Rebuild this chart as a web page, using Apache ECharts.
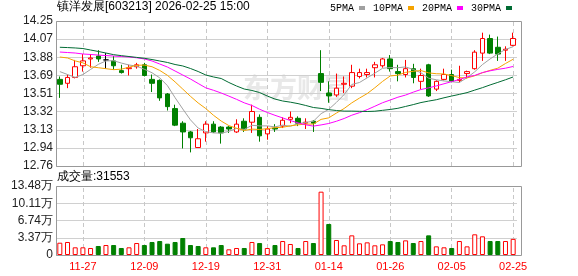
<!DOCTYPE html>
<html>
<head>
<meta charset="utf-8">
<script src="https://cdn.jsdelivr.net/npm/echarts@6/dist/echarts.min.js"></script>
<style>
html, body { margin: 0; padding: 0; background: #fff; }
#kline { width: 578px; height: 276px; }
</style>
</head>
<body>
<div id="kline"></div>
<script>
// 日期
var dates = ['11-24','11-25','11-26','11-27','11-28','12-01','12-02','12-03','12-04','12-05',
  '12-08','12-09','12-10','12-11','12-12','12-15','12-16','12-17','12-18','12-19',
  '12-22','12-23','12-24','12-25','12-26','12-29','12-30','12-31','01-05','01-06',
  '01-07','01-08','01-09','01-12','01-13','01-14','01-15','01-16','01-19','01-20',
  '01-21','01-22','01-23','01-26','01-27','01-28','01-29','01-30','02-02','02-03',
  '02-04','02-05','02-06','02-09','02-10','02-11','02-12','02-13','02-24','02-25'];

// 开, 收, 低, 高
var kdata = [
  [13.65,13.60,13.46,13.68],[13.61,13.67,13.56,13.70],[13.67,13.78,13.66,13.85],[13.79,13.84,13.73,13.91],
  [13.86,13.87,13.77,13.91],[13.89,13.86,13.83,13.95],[13.85,13.85,13.76,13.92],[13.84,13.79,13.75,13.89],
  [13.74,13.72,13.71,13.80],[13.76,13.77,13.69,13.80],[13.78,13.80,13.76,13.82],[13.80,13.69,13.68,13.82],
  [13.65,13.61,13.52,13.70],[13.64,13.46,13.43,13.65],[13.50,13.37,13.33,13.51],[13.35,13.18,13.17,13.39],
  [13.20,13.11,12.94,13.22],[13.11,13.05,12.90,13.12],[12.95,13.04,12.95,13.14],[13.10,13.19,13.01,13.22],
  [13.19,13.11,13.10,13.22],[13.16,13.10,12.99,13.17],[13.16,13.14,13.10,13.17],[13.11,13.19,13.10,13.24],
  [13.22,13.14,13.11,13.25],[13.21,13.32,13.10,13.39],[13.26,13.07,13.01,13.29],[13.09,13.14,13.03,13.17],
  [13.15,13.14,13.11,13.19],[13.17,13.23,13.15,13.26],[13.24,13.26,13.20,13.32],[13.25,13.20,13.17,13.27],
  [13.20,13.21,13.14,13.25],[13.22,13.20,13.11,13.23],[13.71,13.62,13.53,13.95],[13.51,13.48,13.41,13.63],
  [13.49,13.56,13.47,13.71],[13.60,13.61,13.51,13.68],[13.58,13.72,13.56,13.80],[13.68,13.72,13.66,13.76],
  [13.70,13.72,13.67,13.76],[13.77,13.80,13.67,13.83],[13.79,13.86,13.77,13.87],[13.86,13.76,13.73,13.90],
  [13.73,13.71,13.63,13.80],[13.70,13.76,13.67,13.85],[13.76,13.67,13.61,13.81],[13.63,13.69,13.55,13.76],
  [13.80,13.48,13.47,13.81],[13.55,13.63,13.53,13.64],[13.65,13.70,13.64,13.76],[13.70,13.63,13.62,13.75],
  [13.64,13.65,13.62,13.79],[13.71,13.73,13.66,13.74],[13.76,13.93,13.75,13.95],[13.92,14.07,13.84,14.13],
  [14.07,13.92,13.91,14.11],[13.98,13.91,13.84,14.09],[13.95,13.96,13.84,13.99],[14.00,14.07,13.99,14.13]
];

var ma5 = [13.73,13.70,13.67,13.70,13.752,13.804,13.84,13.842,13.818,13.798,
  13.786,13.754,13.718,13.666,13.586,13.462,13.346,13.234,13.15,13.114,
  13.10,13.098,13.116,13.146,13.136,13.178,13.172,13.172,13.162,13.18,
  13.168,13.194,13.208,13.22,13.298,13.342,13.414,13.494,13.598,13.618,
  13.666,13.714,13.764,13.772,13.77,13.778,13.752,13.718,13.662,13.646,
  13.634,13.626,13.618,13.668,13.728,13.802,13.86,13.912,13.958,13.986];
var ma10 = [13.88,13.87,13.84,13.82,13.78,13.77,13.76,13.75,13.755,13.775,
  13.795,13.797,13.78,13.742,13.692,13.624,13.55,13.476,13.408,13.35,
  13.281,13.222,13.175,13.148,13.125,13.139,13.135,13.144,13.154,13.158,
  13.173,13.183,13.19,13.191,13.239,13.255,13.304,13.351,13.409,13.458,
  13.504,13.564,13.629,13.685,13.694,13.722,13.733,13.741,13.717,13.708,
  13.706,13.689,13.668,13.665,13.687,13.718,13.743,13.765,13.813,13.857];
var ma20 = [13.931,13.926,13.921,13.911,13.906,13.90,13.895,13.89,13.885,13.88,
  13.872,13.86,13.839,13.808,13.777,13.736,13.695,13.654,13.608,13.563,
  13.538,13.51,13.478,13.445,13.409,13.382,13.343,13.31,13.281,13.254,
  13.227,13.203,13.183,13.17,13.182,13.197,13.22,13.248,13.282,13.308,
  13.339,13.374,13.41,13.438,13.467,13.489,13.519,13.546,13.563,13.583,
  13.605,13.627,13.649,13.675,13.691,13.72,13.738,13.753,13.765,13.783];
var ma30 = [13.98,13.977,13.973,13.967,13.952,13.937,13.921,13.904,13.894,13.885,
  13.876,13.867,13.854,13.839,13.824,13.803,13.788,13.762,13.731,13.695,
  13.675,13.659,13.618,13.582,13.551,13.536,13.515,13.479,13.448,13.428,
  13.416,13.401,13.382,13.361,13.352,13.339,13.33,13.324,13.324,13.322,
  13.32,13.323,13.332,13.341,13.353,13.372,13.391,13.412,13.427,13.441,
  13.461,13.479,13.496,13.514,13.54,13.565,13.593,13.619,13.646,13.675];

// 成交量, 以及涨(1)/跌(-1)
var volumes = [24000,25400,15000,15000,13700,17600,19500,19500,13700,15000,
  23400,19500,25400,27300,22100,25400,33200,19500,17600,15000,
  15000,19500,11100,13700,13700,25400,23400,13700,19500,27300,
  21500,13700,27300,23400,123700,60600,29300,18900,38400,22800,
  24700,18900,20800,27300,25400,28600,23400,27300,38400,16900,
  15000,13700,27300,16900,40400,36500,27300,27300,27300,31553];
var volDir = [1,1,1,1,1,-1,1,-1,-1,1, 1,-1,-1,-1,-1,-1,-1,-1,-1,1,
  -1,-1,1,1,-1,1,-1,1,-1,1, 1,-1,1,-1,1,-1,1,1,1,1,
  1,1,1,-1,-1,1,-1,1,-1,1, 1,-1,1,1,1,1,-1,-1,1,1];

var shownDates = ['11-27','12-09','12-19','12-31','01-14','01-26','02-05','02-25'];
var priceTicks = ['12.76','12.94','13.13','13.32','13.51','13.69','13.88','14.07','14.25'];
var volTicks = ['0','3.37万','6.74万','10.11万','13.48万'];

var myChart = echarts.init(document.getElementById('kline'));

var pMin = 12.76, pMax = 14.25, pStep = (pMax - pMin) / 8;
var vMax = 134800, vStep = vMax / 4;
var red = '#ff0000', green = '#008000';
var font = '"Liberation Sans", Arial, sans-serif';

function dateLines() {
  return {
    silent: true, symbol: ['none', 'none'], label: { show: false }, z: 1,
    lineStyle: { color: '#c8c8c8', type: [4, 3], width: 1 },
    data: shownDates.map(function (d) { return { xAxis: d }; })
  };
}

function maLine(name, data, color) {
  return {
    name: name, type: 'line', data: data, xAxisIndex: 0, yAxisIndex: 0,
    symbol: 'none', smooth: false, z: 3,
    lineStyle: { width: 1, color: color }, itemStyle: { color: color }
  };
}

var volData = volumes.map(function (v, i) {
  return {
    value: v,
    itemStyle: volDir[i] > 0
      ? { color: '#fff', borderColor: red, borderWidth: 1 }
      : { color: green, borderColor: green, borderWidth: 1 }
  };
});

var option = {
  animation: false,
  title: [
    { text: '镇洋发展[603213] 2026-02-25 15:00', left: 57, top: 1, padding: 0,
      textStyle: { fontSize: 12, fontWeight: 'normal', color: '#000', fontFamily: font } },
    { text: '成交量:' + volumes[volumes.length - 1], left: 57, top: 171, padding: 0,
      textStyle: { fontSize: 12, fontWeight: 'normal', color: '#000', fontFamily: font } }
  ],
  legend: {
    data: ['5PMA', '10PMA', '20PMA', '30PMA'],
    right: 66, top: 3, padding: 0, icon: 'rect', itemWidth: 6, itemHeight: 4,
    itemGap: 8, align: 'right', selectedMode: false,
    textStyle: { fontSize: 10, color: '#000', fontFamily: '"Liberation Mono", monospace' }
  },
  grid: [
    { left: 56, top: 21, width: 461, height: 145 },
    { left: 56, top: 186, width: 461, height: 69 }
  ],
  xAxis: [
    { type: 'category', gridIndex: 0, data: dates, boundaryGap: true,
      axisLine: { show: false }, axisTick: { show: false }, axisLabel: { show: false },
      splitLine: { show: false } },
    { type: 'category', gridIndex: 1, data: dates, boundaryGap: true,
      axisLine: { show: false }, axisTick: { show: false }, splitLine: { show: false },
      axisLabel: { color: red, fontSize: 11, fontFamily: font, margin: 6,
        interval: function (i, v) { return shownDates.indexOf(v) >= 0; } } }
  ],
  yAxis: [
    { type: 'value', gridIndex: 0, min: pMin, max: pMax, interval: pStep,
      axisLine: { show: false }, axisTick: { show: false },
      splitLine: { lineStyle: { color: '#d0d0d0' } },
      axisLabel: { color: '#222', fontSize: 12, fontFamily: font, margin: 3,
        formatter: function (v) { return priceTicks[Math.round((v - pMin) / pStep)]; } } },
    { type: 'value', gridIndex: 1, min: 0, max: vMax, interval: vStep,
      axisLine: { show: false }, axisTick: { show: false },
      splitLine: { lineStyle: { color: '#d0d0d0' } },
      axisLabel: { color: '#222', fontSize: 12, fontFamily: font, margin: 3,
        formatter: function (v) { return volTicks[Math.round(v / vStep)]; } } }
  ],
  graphic: [
    { type: 'text', x: 243, y: 74, z: 0, silent: true,
      style: { text: '东方财富', fill: '#e8e8e8', font: 'bold 27px "Noto Sans CJK SC"' } },
    { type: 'rect', z: 10, silent: true,
      shape: { x: 56.5, y: 21.5, width: 465, height: 145 },
      style: { fill: 'none', stroke: '#999', lineWidth: 1 } },
    { type: 'rect', z: 10, silent: true,
      shape: { x: 56.5, y: 186.5, width: 465, height: 69 },
      style: { fill: 'none', stroke: '#999', lineWidth: 1 } }
  ],
  series: [
    {
      name: 'K', type: 'candlestick', xAxisIndex: 0, yAxisIndex: 0, data: kdata,
      barWidth: 5,
      itemStyle: { color: '#fff', color0: green, borderColor: red, borderColor0: green,
        borderColorDoji: '#000', borderWidth: 1 },
      markLine: dateLines()
    },
    maLine('5PMA', ma5, '#a0a0a0'),
    maLine('10PMA', ma10, '#f5a300'),
    maLine('20PMA', ma20, '#ff00ff'),
    maLine('30PMA', ma30, '#006b33'),
    {
      name: '成交量', type: 'bar', xAxisIndex: 1, yAxisIndex: 1, data: volData,
      barWidth: 5, markLine: dateLines()
    }
  ]
};

myChart.setOption(option);
</script>
</body>
</html>
